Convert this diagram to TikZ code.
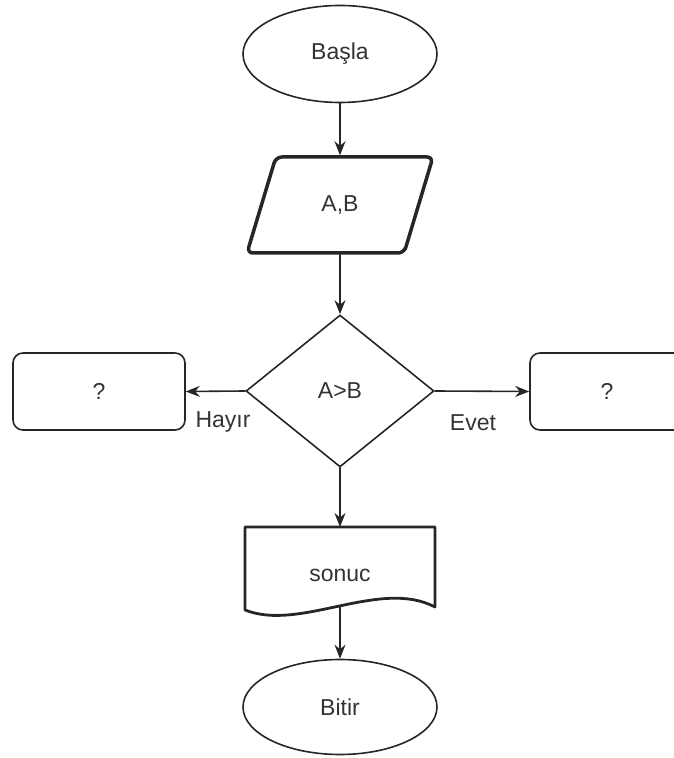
\documentclass[tikz,border=0pt]{standalone}
\usepackage{fontspec}
\setmainfont{Liberation Sans}
\usetikzlibrary{shapes.geometric,arrows.meta}

\begin{document}
\begin{tikzpicture}[x=1pt,y=1pt,line cap=round,line join=round,
  term/.style={ellipse,draw=black!85,line width=1.6pt,fill=white,
    minimum width=194pt,minimum height=97pt,inner sep=0pt},
  inbox/.style={trapezium,trapezium left angle=66,trapezium right angle=114,
    trapezium stretches=true,draw=black!85,line width=3.5pt,rounded corners=6pt,
    minimum width=187pt,minimum height=96pt,inner sep=0pt},
  test/.style={diamond,draw=black!85,line width=1.6pt,
    minimum width=188pt,minimum height=152pt,inner sep=0pt},
  proc/.style={draw=black!85,line width=1.6pt,rounded corners=10pt,
    minimum height=77pt,inner sep=0pt},
  arr/.style={-{Stealth[length=14pt,width=11pt]},draw=black!85,line width=1.6pt},
  txt/.style={font=\fontsize{23}{27}\selectfont,text=black!80}]

\useasboundingbox (0,0) rectangle (674,758);
\clip (0,0) rectangle (674,758);

% Start, input and test along the main column.
\node[term,txt] (start) at (340,704) {Başla};
\node[inbox,txt] (input) at (340,553) {A,B};
\node[test,txt] (cmp) at (340,367) {A>B};

% Branch boxes; the right one runs past the edge.
\node[proc,txt,minimum width=172pt] (no) at (99,366.5) {?};
\node[proc,txt,minimum width=154pt] (yes) at (607,366.5) {?};
\node[txt] (nolab) at (223,336) {Hayır};
\node[txt] (yeslab) at (473,335) {Evet};

% Output document with its wavy bottom.
\draw[draw=black!85,line width=2.8pt]
  (435,151)--(435,231)--(245,231)--(245,148)
  .. controls (300,126) and (380,180) .. (435,151);
\node[txt] (res) at (340,183) {sonuc};
\coordinate (restop) at (340,231);
\coordinate (resbot) at (340,152);

\node[term,txt,minimum height=95pt] (stop) at (340,51) {Bitir};

% Connectors.
\draw[arr] (start.south)--(input.north);
\draw[arr] (input.south)--(cmp.north);
\draw[arr] (cmp.west)--(no.east);
\draw[arr] (cmp.east)--(yes.west);
\draw[arr] (cmp.south)--(restop);
\draw[arr] (resbot)--(stop.north);
\end{tikzpicture}
\end{document}
